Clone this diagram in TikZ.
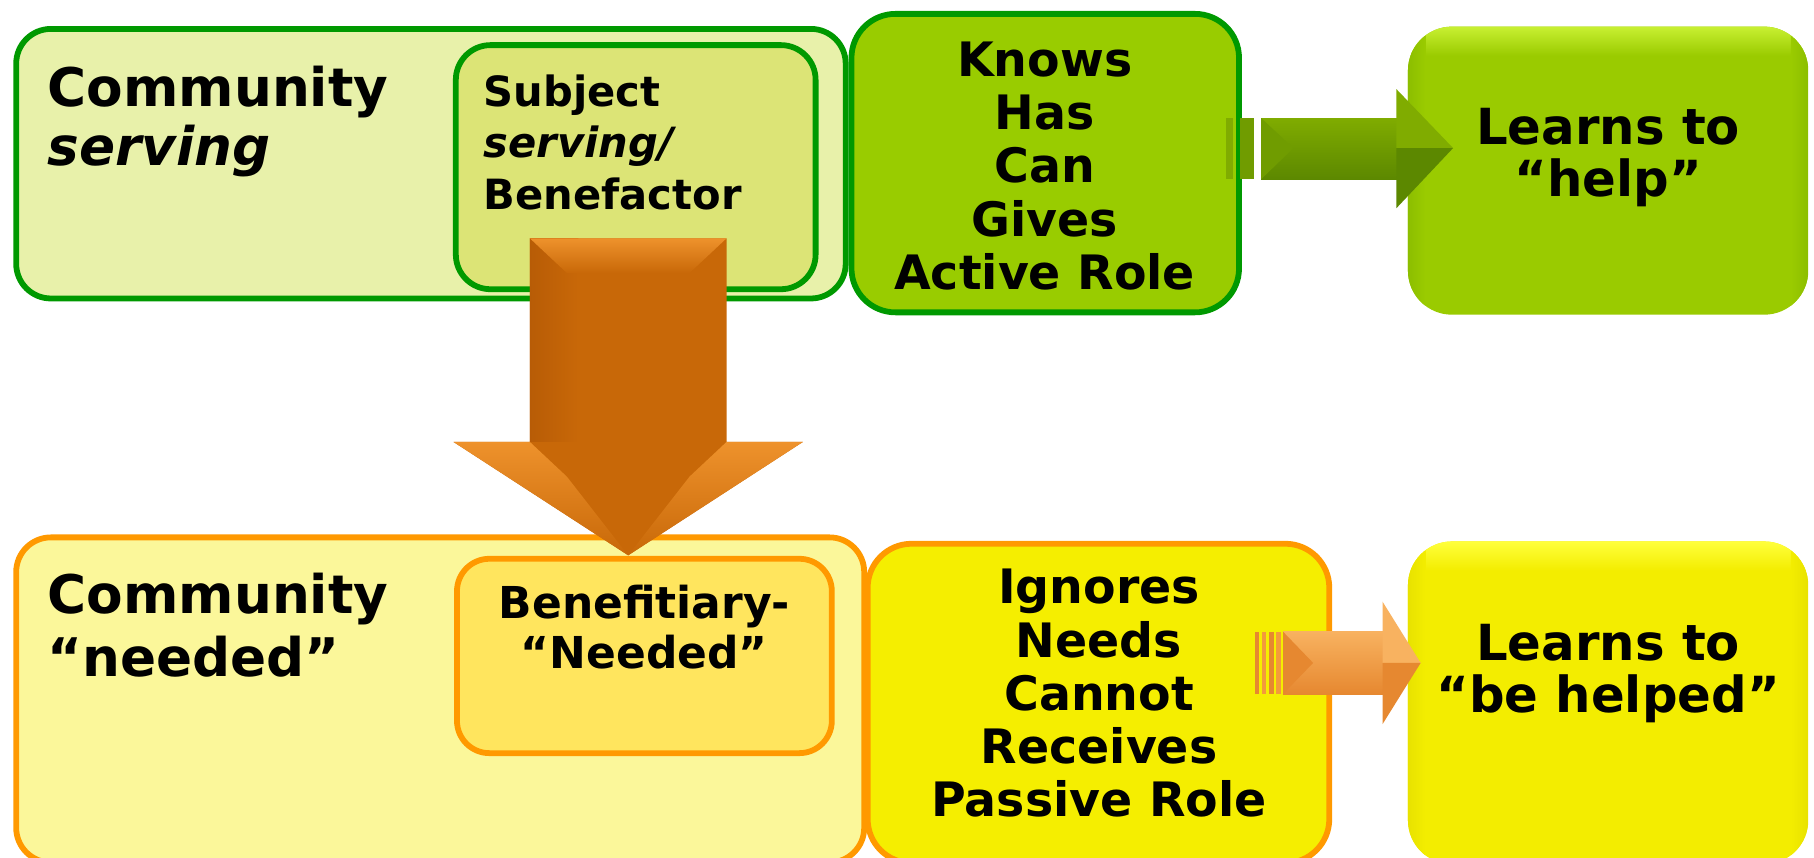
\documentclass[tikz,border=0pt]{standalone}
\usepackage{fontspec}
\setmainfont{DejaVu Sans}
\definecolor{gborder}{RGB}{0,153,0}
\definecolor{oborder}{RGB}{255,153,0}
\definecolor{topouter}{RGB}{232,241,170}
\definecolor{subjfill}{RGB}{220,228,118}
\definecolor{knowsfill}{RGB}{153,204,0}
\definecolor{botouter}{RGB}{251,247,154}
\definecolor{benefill}{RGB}{255,229,94}
\definecolor{ignfill}{RGB}{245,238,0}
\definecolor{helpFill}{RGB}{154,203,0}
\definecolor{helpTop}{RGB}{200,240,50}
\definecolor{helpEdge}{RGB}{140,190,0}
\definecolor{hpdFill}{RGB}{243,237,0}
\definecolor{hpdTop}{RGB}{255,255,60}
\definecolor{hpdEdge}{RGB}{232,226,0}
\definecolor{garLight}{RGB}{128,172,0}
\definecolor{garMid}{RGB}{112,156,0}
\definecolor{garDark}{RGB}{92,136,0}
\definecolor{darMain}{RGB}{200,104,8}
\definecolor{darDark}{RGB}{184,92,6}
\definecolor{darLight}{RGB}{238,146,44}
\definecolor{oarMain}{RGB}{243,154,60}
\definecolor{oarLight}{RGB}{248,178,96}
\definecolor{oarDark}{RGB}{230,136,48}
\begin{document}
\begin{tikzpicture}[x=1pt,y=-1pt,
  gbox/.style={draw=gborder, line width=5pt, rounded corners=30pt, inner sep=0pt},
  obox/.style={draw=oborder, line width=5pt, rounded corners=30pt, inner sep=0pt},
  plainbox/.style={rounded corners=38pt, inner sep=0pt},
  txt/.style={inner sep=0pt},
  fA/.style={font=\fontsize{46}{52}\selectfont\bfseries},
  fB/.style={font=\fontsize{36}{44}\selectfont\bfseries},
  fC/.style={font=\fontsize{41}{46}\selectfont\bfseries},
  fD/.style={font=\fontsize{43}{46}\selectfont\bfseries},
  fE/.style={font=\fontsize{38}{44}\selectfont\bfseries},
]
\useasboundingbox (0,0) rectangle (1568,741);
\fill[white] (0,0) rectangle (1568,741);

% ---------- top row ----------
\node[gbox, fill=topouter, minimum width=717pt, minimum height=233pt] (commS) at (372.5,141.5) {};
\node[gbox, fill=subjfill, minimum width=311pt, minimum height=211pt] (subj) at (549.5,144.5) {};
\node[gbox, fill=knowsfill, rounded corners=38pt, minimum width=335pt, minimum height=258pt] (knows) at (903.5,141) {};
\node[plainbox, fill=helpFill, minimum width=346pt, minimum height=249pt] (helpbox) at (1390,147.5) {};
\begin{scope}
  \clip[rounded corners=38pt] (1217,23) rectangle (1563,272);
  \shade[top color=helpTop, bottom color=helpFill] (1217,23) rectangle (1563,48);
  \shade[left color=helpEdge, right color=helpFill] (1217,23) rectangle (1232,272);
  \shade[left color=helpFill, right color=helpEdge] (1548,23) rectangle (1563,272);
\end{scope}

\node[txt, fA, anchor=base west] (commS1) at (41,92) {Community};
\node[txt, fA, anchor=base west] (commS2) at (41,143) {\itshape serving};

\node[txt, fB, anchor=base west] (subj1) at (418,92) {Subject};
\node[txt, fB, anchor=base west] (subj2) at (418,136) {\itshape serving/};
\node[txt, fB, anchor=base west] (subj3) at (418,181) {Benefactor};

\node[txt, fC, anchor=base] (kn1) at (903,66) {Knows};
\node[txt, fC, anchor=base] (kn2) at (903,112) {Has};
\node[txt, fC, anchor=base] (kn3) at (903,158) {Can};
\node[txt, fC, anchor=base] (kn4) at (903,204) {Gives};
\node[txt, fC, anchor=base] (kn5) at (903,250) {Active Role};

\node[txt, fD, anchor=base] (lh1) at (1390,125) {Learns to};
\node[txt, fD, anchor=base] (lh2) at (1390,170) {“help”};

% ---------- bottom row ----------
\node[obox, fill=botouter, minimum width=733pt, minimum height=281pt] (commN) at (380.5,605) {};
\node[obox, fill=benefill, rounded corners=28pt, minimum width=324pt, minimum height=168pt] (bene) at (557,567) {};
\node[obox, fill=ignfill, rounded corners=38pt, minimum width=399pt, minimum height=276pt] (ign) at (949.5,608) {};
\node[plainbox, fill=hpdFill, minimum width=346pt, minimum height=279pt] (hpdbox) at (1390,607.5) {};
\begin{scope}
  \clip[rounded corners=38pt] (1217,468) rectangle (1563,747);
  \shade[top color=hpdTop, bottom color=hpdFill] (1217,468) rectangle (1563,493);
  \shade[left color=hpdEdge, right color=hpdFill] (1217,468) rectangle (1232,747);
  \shade[left color=hpdFill, right color=hpdEdge] (1548,468) rectangle (1563,747);
\end{scope}

\node[txt, fA, anchor=base west] (commN1) at (41,530) {Community};
\node[txt, fA, anchor=base west] (commN2) at (41,585) {“needed”};

\node[txt, fE, anchor=base] (bn1) at (557,535) {Benefitiary-};
\node[txt, fE, anchor=base] (bn2) at (557,578) {“Needed”};

\node[txt, fC, anchor=base] (ig1) at (950,522) {Ignores};
\node[txt, fC, anchor=base] (ig2) at (950,568) {Needs};
\node[txt, fC, anchor=base] (ig3) at (950,614) {Cannot};
\node[txt, fC, anchor=base] (ig4) at (950,660) {Receives};
\node[txt, fC, anchor=base] (ig5) at (950,706) {Passive Role};

\node[txt, fD, anchor=base] (lb1) at (1390,571) {Learns to};
\node[txt, fD, anchor=base] (lb2) at (1390,616) {“be helped”};

% ---------- green arrow (knows -> helpbox) ----------
\fill[garLight] (1060,102) rectangle (1066,155);
\fill[garMid] (1072,102) rectangle (1084,155);
\shade[top color=garLight, bottom color=garDark] (1090,102) rectangle (1208,155);
\fill[garMid] (1090,102) -- (1118,128) -- (1090,155) -- cycle;
\fill[garLight] (1207,77) -- (1256,128) -- (1207,128) -- cycle;
\fill[garDark] (1207,128) -- (1256,128) -- (1207,180) -- cycle;

% ---------- orange arrow (ign -> hpdbox) ----------
\fill[oarDark] (1085,546) rectangle (1088,600);
\fill[oarMain] (1091,546) rectangle (1094,600);
\fill[oarDark] (1097,546) rectangle (1101,600);
\fill[oarMain] (1103,546) rectangle (1107,600);
\shade[top color=oarLight, bottom color=oarDark] (1109,546) rectangle (1196,600);
\fill[oarDark] (1109,546) -- (1135,573) -- (1109,600) -- cycle;
\fill[oarLight] (1195,520) -- (1228,573) -- (1195,573) -- cycle;
\fill[oarDark] (1195,573) -- (1228,573) -- (1195,626) -- cycle;

% ---------- big down arrow (subj -> bene) ----------
\fill[darMain] (458,206) -- (628,206) -- (628,382) -- (694,382) -- (543,480) -- (392,382) -- (458,382) -- cycle;
\shade[left color=darDark, right color=darMain] (458,206) rectangle (500,382);
\shade[top color=darLight, bottom color=darMain] (458,206) -- (628,206) -- (596,236) -- (490,236) -- cycle;
\shade[top color=darLight, bottom color=darMain] (392,382) -- (458,382) -- (490,412) -- (543,480) -- cycle;
\shade[top color=darLight, bottom color=darMain] (694,382) -- (628,382) -- (596,412) -- (543,480) -- cycle;
\end{tikzpicture}
\end{document}
